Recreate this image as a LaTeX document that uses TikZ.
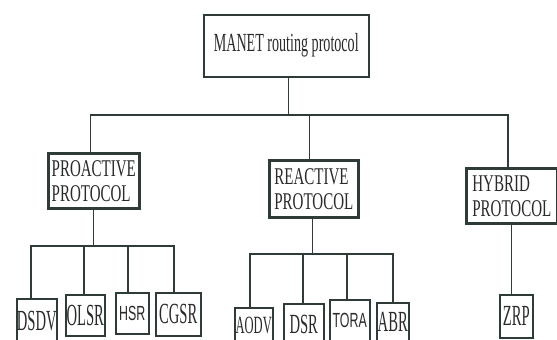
\documentclass[tikz,border=0pt]{standalone}
\usepackage{fontspec}
\setmainfont{Liberation Serif}
\newfontfamily\arialf{Liberation Sans}
\definecolor{lc}{HTML}{2E3B36}
\definecolor{tc}{HTML}{2A2A2A}
\newcommand\sy[2][1.6]{\scalebox{1}[#1]{#2}}
\begin{document}
\begin{tikzpicture}[x=1pt,y=-1pt,
  ln/.style={draw=lc, line width=1.3pt},
  box/.style={draw=lc, fill=white, inner sep=0pt, anchor=north west, text=tc, align=left, line width=1.5pt},
  mid/.style={box, line width=2.6pt, font=\fontsize{15}{25}\selectfont},
  leaf/.style={box, font=\fontsize{14.6}{16}\selectfont},
  sleaf/.style={box, font=\arialf\fontsize{12.4}{14}\selectfont}
]
\useasboundingbox (0,0) rectangle (557,340);
\clip (0,0) rectangle (557,340);
\fill[white] (0,0) rectangle (557,340);

% root
\node[box, minimum width=165, minimum height=62, font=\fontsize{14.1}{16}\selectfont] (root) at (203,14) {\sy[1.85]{MANET routing protocol}};

% second level
\node[mid, minimum width=91, minimum height=55] (pro) at (47,152) {\sy{PROACTIVE}\\\sy{PROTOCOL}};
\node[mid, minimum width=89, minimum height=57] (rea) at (268,159) {\sy{REACTIVE}\\\sy{PROTOCOL}};
\node[mid, minimum width=91, minimum height=55] (hyb) at (465,167) {\sy{HYBRID}\\\sy{PROTOCOL}};

% leaves
\node[leaf, minimum width=40, minimum height=45] (dsdv) at (16,298) {\sy[2.0]{DSDV}};
\node[leaf, minimum width=39, minimum height=41] (olsr) at (65,294) {\sy[2.1]{OLSR}};
\node[sleaf, minimum width=33, minimum height=41] (hsr) at (115,292) {\sy[1.65]{HSR}};
\node[leaf, minimum width=45, minimum height=43] (cgsr) at (155,292) {\sy[2.0]{CGSR}};

\node[leaf, minimum width=38, minimum height=36] (aodv) at (234,307) {\scalebox{0.86}[1.7]{AODV}};
\node[leaf, minimum width=40, minimum height=42] (dsr) at (283,303) {\sy[1.9]{DSR}};
\node[sleaf, minimum width=40, minimum height=42] (tora) at (329,299) {\sy[1.65]{TORA}};
\node[leaf, minimum width=32, minimum height=39] (abr) at (376,302) {\sy[2.0]{ABR}};

\node[leaf, minimum width=33, minimum height=43] (zrp) at (499,294) {\sy[2.0]{ZRP}};

% main bus
\coordinate (busL) at (89,115);
\coordinate (busR) at (508,115);
\draw[ln] ([xshift=-3.5pt]pro.north) -- ([xshift=-3.5pt]pro.north |- busL) -- (busR) -- (hyb.north -| busR);
\draw[ln] ([xshift=2.5pt]root.south) -- ([xshift=2.5pt]root.south |- busL);
\draw[ln] ([xshift=-4.5pt]rea.north) -- ([xshift=-4.5pt]rea.north |- busL);

% proactive bus
\coordinate (pb1) at (31,246);
\coordinate (pb2) at (84,246);
\coordinate (pb3) at (128,246);
\coordinate (pb4) at (174,246);
\draw[ln] (pro.south) -- (pro.south |- pb1);
\draw[ln] (dsdv.north -| pb1) -- (pb1) -- (pb4) -- (cgsr.north -| pb4);
\draw[ln] (pb2) -- (olsr.north -| pb2);
\draw[ln] (pb3) -- (hsr.north -| pb3);

% reactive bus
\coordinate (rb1) at (250,254);
\coordinate (rb2) at (303,254);
\coordinate (rb3) at (347,254);
\coordinate (rb4) at (393,254);
\draw[ln] ([xshift=-1pt]rea.south) -- ([xshift=-1pt]rea.south |- rb1);
\draw[ln] (aodv.north -| rb1) -- (rb1) -- (rb4) -- (abr.north -| rb4);
\draw[ln] (rb2) -- (dsr.north -| rb2);
\draw[ln] (rb3) -- (tora.north -| rb3);

% hybrid
\draw[ln] (hyb.south) -- (zrp.north -| hyb.south);
\end{tikzpicture}
\end{document}
